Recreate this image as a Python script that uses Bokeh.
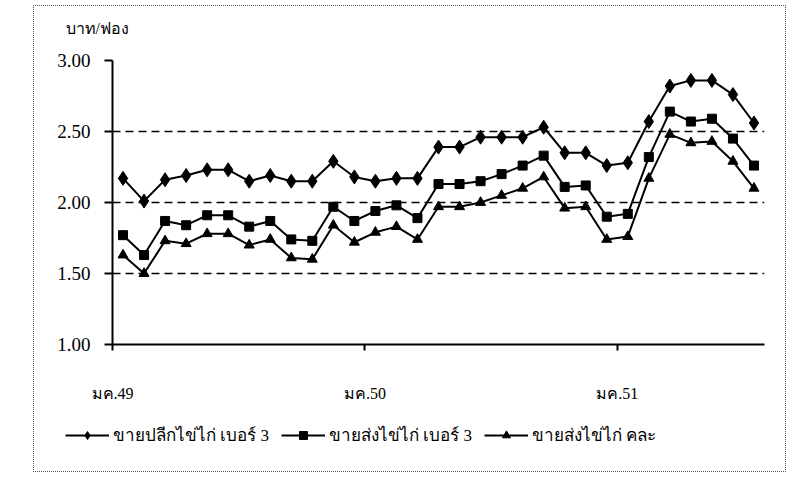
from bokeh.plotting import figure
from bokeh.layouts import row, column
from bokeh.models import (Spacer, FixedTicker, NumeralTickFormatter, Legend, LegendItem,
                          Range1d, Label)
from bokeh.embed import file_html
from bokeh.resources import INLINE

# ---- data (monthly, มค.49 .. กค.51) ----
retail_no3 = [2.17, 2.01, 2.16, 2.19, 2.23, 2.23, 2.15, 2.19, 2.15, 2.15, 2.29, 2.18,
              2.15, 2.17, 2.17, 2.39, 2.39, 2.46, 2.46, 2.46, 2.53, 2.35, 2.35, 2.26,
              2.28, 2.57, 2.82, 2.86, 2.86, 2.76, 2.56]
wholesale_no3 = [1.77, 1.63, 1.87, 1.84, 1.91, 1.91, 1.83, 1.87, 1.74, 1.73, 1.97, 1.87,
                 1.94, 1.98, 1.89, 2.13, 2.13, 2.15, 2.20, 2.26, 2.33, 2.11, 2.12, 1.90,
                 1.92, 2.32, 2.64, 2.57, 2.59, 2.45, 2.26]
wholesale_mixed = [1.63, 1.50, 1.73, 1.71, 1.78, 1.78, 1.70, 1.74, 1.61, 1.60, 1.84, 1.72,
                   1.79, 1.83, 1.74, 1.97, 1.97, 2.00, 2.05, 2.10, 2.18, 1.96, 1.97, 1.74,
                   1.76, 2.17, 2.48, 2.42, 2.43, 2.29, 2.10]
series_names = ["ขายปลีกไข่ไก่ เบอร์ 3", "ขายส่งไข่ไก่ เบอร์ 3", "ขายส่งไข่ไก่ คละ"]
year_ticks = [0, 12, 24]
year_labels = ["มค.49", "มค.50", "มค.51"]
y_ticks = [1.0, 1.5, 2.0, 2.5, 3.0]
unit_label = "บาท/ฟอง"

n = len(retail_no3)
xs = [i + 0.5 for i in range(n)]

SERIF = "Liberation Serif"
W = 751


def strip(height, x_range, y_range):
    f = figure(width=W, height=height, output_backend="svg", toolbar_location=None,
               x_range=x_range, y_range=y_range,
               x_axis_location=None, y_axis_location=None,
               min_border=0, min_border_left=0, min_border_right=0,
               min_border_top=0, min_border_bottom=0)
    f.grid.visible = False
    f.outline_line_color = None
    f.border_fill_color = "white"
    f.background_fill_color = "white"
    return f


# top strip with the unit label (ranges in pixels)
p0 = strip(30, Range1d(0, W), Range1d(0, 30))
p0.add_layout(Label(x=31, y=8, text=unit_label, text_align="left", text_baseline="middle",
                    text_font=SERIF, text_font_size="16px", text_color="black"))

# main chart
p = figure(width=W, height=375, output_backend="svg", toolbar_location=None,
           x_range=Range1d(0, n), y_range=Range1d(1.0, 3.0),
           min_border_left=78, min_border_top=24, min_border_right=21, min_border_bottom=67)
p.outline_line_color = None
p.background_fill_color = "white"
p.border_fill_color = "white"

p.xaxis.ticker = FixedTicker(ticks=year_ticks)
p.xaxis.major_label_overrides = {t: l for t, l in zip(year_ticks, year_labels)}
p.xaxis.major_tick_out = 6
p.xaxis.major_tick_in = 0
p.xaxis.minor_tick_line_color = None
p.xaxis.major_label_standoff = 34
p.xaxis.axis_line_width = 2
p.xaxis.major_tick_line_width = 2
p.xaxis.major_label_text_font = SERIF
p.xaxis.major_label_text_font_size = "16px"
p.xaxis.major_label_text_color = "black"

p.yaxis.ticker = FixedTicker(ticks=y_ticks)
p.yaxis.formatter = NumeralTickFormatter(format="0.00")
p.yaxis.major_tick_out = 8
p.yaxis.major_tick_in = 0
p.yaxis.minor_tick_line_color = None
p.yaxis.axis_line_width = 2
p.yaxis.major_tick_line_width = 2
p.yaxis.major_label_standoff = 14
p.yaxis.major_label_text_font = SERIF
p.yaxis.major_label_text_font_size = "19px"
p.yaxis.major_label_text_color = "black"

p.xgrid.grid_line_color = None
p.ygrid.ticker = FixedTicker(ticks=[1.5, 2.0, 2.5, 3.0])
p.ygrid.grid_line_color = "black"
p.ygrid.grid_line_dash = "8 5"
p.ygrid.grid_line_width = 1.5

styles = [("diamond", 14), ("square", 9), ("triangle", 10)]
series = [retail_no3, wholesale_no3, wholesale_mixed]
for vals, (mk, sz) in zip(series, styles):
    p.line(xs, vals, line_color="black", line_width=2)
    p.scatter(xs, vals, marker=mk, size=sz, fill_color="black", line_color="black")

# legend strip below the chart (same series, drawn outside its visible range)
p2 = strip(60, Range1d(0, n), Range1d(-1, 0))
items = []
for name, vals, (mk, sz) in zip(series_names, series, styles):
    lr = p2.line(xs, vals, line_color="black", line_width=2)
    sr = p2.scatter(xs, vals, marker=mk, size=sz - 3, fill_color="black", line_color="black")
    items.append(LegendItem(label=name, renderers=[lr, sr]))
legend = Legend(items=items, orientation="horizontal", location=(31, 23),
                glyph_width=44, glyph_height=20, label_standoff=4, spacing=12,
                padding=0, margin=0, border_line_color=None, background_fill_alpha=0,
                label_text_font=SERIF, label_text_font_size="17px", label_text_color="black")
p2.add_layout(legend, "center")

box = column(row(p0), p, row(p2), styles={"border": "1px dotted #555"})
layout = column(Spacer(height=5), row(Spacer(width=33), box))
open("out.html", "w").write(file_html(layout, INLINE))
